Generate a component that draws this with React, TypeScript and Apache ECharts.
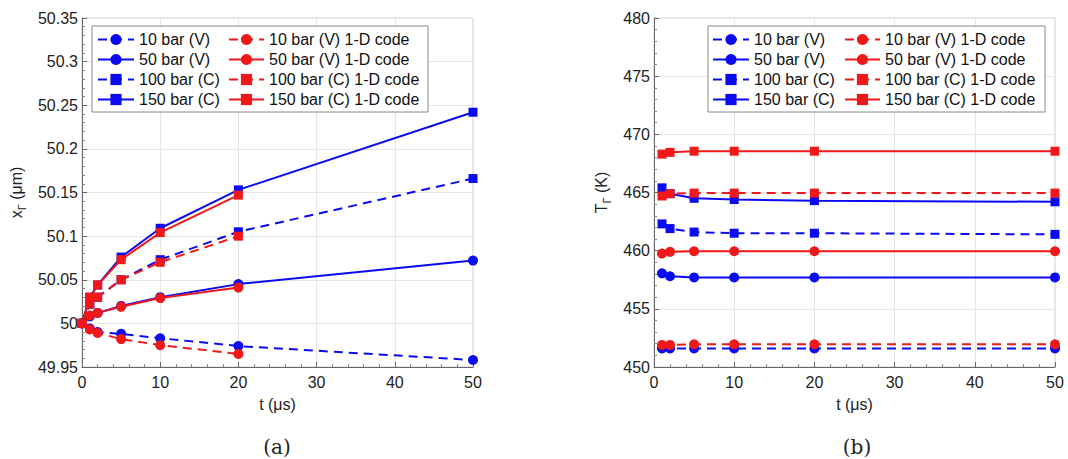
import React, { useEffect, useRef } from "react";
import * as echarts from "echarts";

// ---- data ----
const tLeftBlue = [0, 1, 2, 5, 10, 20, 50];
const tLeftRed = [0, 1, 2, 5, 10, 20];
const xBlue10 = [50, 49.994, 49.99, 49.988, 49.983, 49.974, 49.958];
const xRed10 = [50, 49.993, 49.989, 49.982, 49.975, 49.965];
const xBlue50 = [50, 50.008, 50.012, 50.02, 50.03, 50.045, 50.072];
const xRed50 = [50, 50.009, 50.012, 50.019, 50.029, 50.041];
const xBlue100 = [50, 50.022, 50.03, 50.05, 50.073, 50.105, 50.166];
const xRed100 = [50, 50.022, 50.03, 50.05, 50.07, 50.1];
const xBlue150 = [50, 50.03, 50.044, 50.076, 50.109, 50.153, 50.242];
const xRed150 = [50, 50.03, 50.044, 50.073, 50.104, 50.147];

const tRight = [1, 2, 5, 10, 20, 50];
const TBlue10 = [451.6, 451.6, 451.6, 451.6, 451.6, 451.6];
const TRed10 = [451.9, 451.9, 451.95, 451.95, 451.95, 451.95];
const TBlue50 = [458.05, 457.8, 457.7, 457.7, 457.7, 457.7];
const TRed50 = [459.75, 459.9, 459.95, 459.95, 459.95, 459.95];
const TBlue100 = [462.3, 461.9, 461.6, 461.5, 461.5, 461.4];
const TRed100 = [464.7, 464.9, 464.95, 464.95, 464.95, 464.95];
const TBlue150 = [465.4, 464.9, 464.5, 464.4, 464.3, 464.2];
const TRed150 = [468.3, 468.45, 468.55, 468.55, 468.55, 468.55];

const blueNames = ["10 bar (V)", "50 bar (V)", "100 bar (C)", "150 bar (C)"];
const redNames = [
  "10 bar (V) 1-D code",
  "50 bar (V) 1-D code",
  "100 bar (C) 1-D code",
  "150 bar (C) 1-D code",
];
const xTicks = { min: 0, max: 50, interval: 10 };
const yLeftTicks = { min: 49.95, max: 50.35, interval: 0.05 };
const yRightTicks = { min: 450, max: 480, interval: 5 };

const BLUE = "#0b0bf2";
const RED = "#f01818";
const FONT = "Liberation Sans, Arial, sans-serif";

function mk(
  name: string,
  xs: number[],
  ys: number[],
  color: string,
  dashed: boolean,
  symbol: string,
  idx: number
) {
  return {
    type: "line",
    name,
    xAxisIndex: idx,
    yAxisIndex: idx,
    data: xs.map((x, i) => [x, ys[i]]),
    symbol,
    symbolSize: symbol === "circle" ? 10 : 9,
    showSymbol: true,
    lineStyle: { color, width: 2, type: dashed ? [9, 6] : "solid" },
    itemStyle: { color },
    emphasis: { disabled: true },
  };
}

const axisCommon = {
  axisLine: { show: true, onZero: false, lineStyle: { color: "#666", width: 1 } },
  axisTick: { show: true, inside: true, length: 5, lineStyle: { color: "#666" } },
  minorTick: { show: true, splitNumber: 5, length: 3, lineStyle: { color: "#888" } },
  splitLine: { show: true, lineStyle: { color: "#e6e6e6", width: 1 } },
  axisLabel: { color: "#222", fontSize: 16, fontFamily: FONT },
};

function makeLegend(names: string[], left: number, iw: number) {
  return {
    show: true,
    orient: "vertical",
    left,
    top: 31,
    data: names,
    itemWidth: iw,
    itemHeight: 14,
    itemGap: 3,
    padding: 0,
    textStyle: { fontSize: 16, fontFamily: FONT, color: "#111", lineHeight: 17 },
    selectedMode: false,
    z: 5,
  };
}

export default function App() {
  const ref = useRef<HTMLDivElement>(null);
  useEffect(() => {
    document.body.style.margin = "0";
    const chart = echarts.init(ref.current!, null, { renderer: "svg" });
    const nameRich = {
      a: { fontSize: 16, fontFamily: FONT, color: "#222", lineHeight: 22 },
      s: { fontSize: 11, fontFamily: FONT, color: "#222", verticalAlign: "bottom", lineHeight: 22 },
    };
    chart.setOption({
      animation: false,
      grid: [
        { left: 82, right: 595, top: 18, bottom: 92, show: true, borderColor: "#d0d0d0", borderWidth: 1 },
        { left: 654, right: 13, top: 18, bottom: 92, show: true, borderColor: "#d0d0d0", borderWidth: 1 },
      ],
      xAxis: [0, 1].map((g) => ({
        type: "value",
        gridIndex: g,
        ...xTicks,
        ...axisCommon,
        axisLabel: { ...axisCommon.axisLabel, margin: 7 },
        name: "t (μs)",
        nameLocation: "middle",
        nameGap: 29,
        nameTextStyle: { fontSize: 16, fontFamily: FONT, color: "#222" },
      })),
      yAxis: [
        {
          type: "value",
          gridIndex: 0,
          ...yLeftTicks,
          ...axisCommon,
          axisLabel: {
            ...axisCommon.axisLabel,
            margin: 4,
            formatter: (v: number) => String(Math.round(v * 100) / 100),
          },
          name: "{a|x}{s|Γ}{a| (μm)}",
          nameLocation: "middle",
          nameGap: 55,
          nameTextStyle: { rich: nameRich },
        },
        {
          type: "value",
          gridIndex: 1,
          ...yRightTicks,
          ...axisCommon,
          axisLabel: { ...axisCommon.axisLabel, margin: 4 },
          name: "{a|T}{s|Γ}{a| (K)}",
          nameLocation: "middle",
          nameGap: 42,
          nameTextStyle: { rich: nameRich },
        },
      ],
      legend: [
        makeLegend(blueNames, 97, 36),
        makeLegend(redNames, 228, 35),
        makeLegend(blueNames, 712, 36),
        makeLegend(redNames, 844, 35),
      ],
      graphic: [
        { type: "rect", z: 4, shape: { x: 92, y: 26, width: 336, height: 86 }, style: { fill: "#fff", stroke: "#8a8a8a", lineWidth: 1 } },
        { type: "rect", z: 4, shape: { x: 708, y: 26, width: 337, height: 86 }, style: { fill: "#fff", stroke: "#8a8a8a", lineWidth: 1 } },
        { type: "text", x: 277, y: 447, style: { text: "(a)", fontSize: 20, fontFamily: "DejaVu Serif, Liberation Serif, serif", fill: "#222", textAlign: "center", textVerticalAlign: "middle" } },
        { type: "text", x: 857, y: 447, style: { text: "(b)", fontSize: 20, fontFamily: "DejaVu Serif, Liberation Serif, serif", fill: "#222", textAlign: "center", textVerticalAlign: "middle" } },
      ],
      series: [
        mk(blueNames[0], tLeftBlue, xBlue10, BLUE, true, "circle", 0),
        mk(blueNames[1], tLeftBlue, xBlue50, BLUE, false, "circle", 0),
        mk(blueNames[2], tLeftBlue, xBlue100, BLUE, true, "rect", 0),
        mk(blueNames[3], tLeftBlue, xBlue150, BLUE, false, "rect", 0),
        mk(redNames[0], tLeftRed, xRed10, RED, true, "circle", 0),
        mk(redNames[1], tLeftRed, xRed50, RED, false, "circle", 0),
        mk(redNames[2], tLeftRed, xRed100, RED, true, "rect", 0),
        mk(redNames[3], tLeftRed, xRed150, RED, false, "rect", 0),
        mk(blueNames[0], tRight, TBlue10, BLUE, true, "circle", 1),
        mk(blueNames[1], tRight, TBlue50, BLUE, false, "circle", 1),
        mk(blueNames[2], tRight, TBlue100, BLUE, true, "rect", 1),
        mk(blueNames[3], tRight, TBlue150, BLUE, false, "rect", 1),
        mk(redNames[0], tRight, TRed10, RED, true, "circle", 1),
        mk(redNames[1], tRight, TRed50, RED, false, "circle", 1),
        mk(redNames[2], tRight, TRed100, RED, true, "rect", 1),
        mk(redNames[3], tRight, TRed150, RED, false, "rect", 1),
      ],
    });
    return () => chart.dispose();
  }, []);
  return <div ref={ref} style={{ width: 1068, height: 459 }} />;
}
